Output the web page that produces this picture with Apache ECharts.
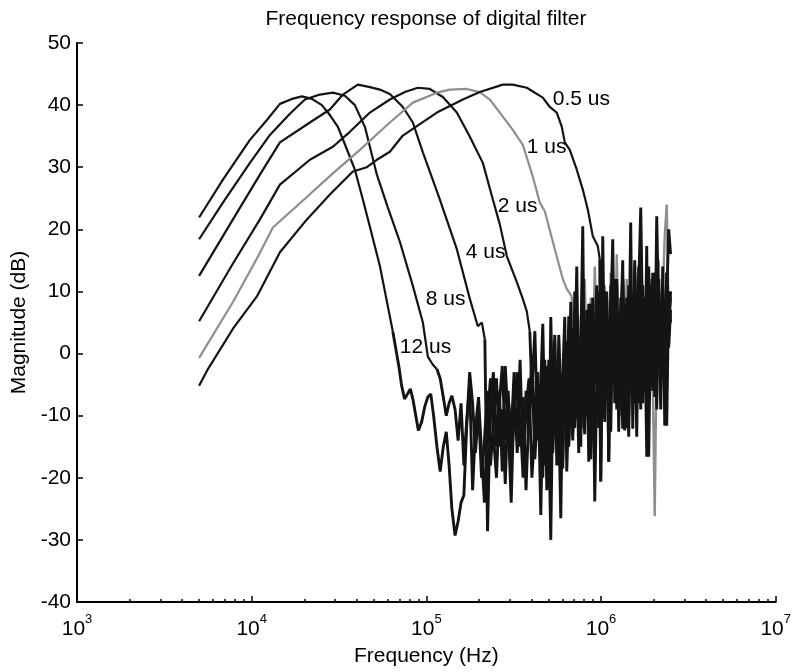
<!DOCTYPE html>
<html><head><meta charset="utf-8">
<script src="https://cdn.jsdelivr.net/npm/echarts@6/dist/echarts.min.js"></script>
<style>html,body{margin:0;padding:0;background:#fff}#c{width:794px;height:672px}</style>
</head><body><div id="c"></div>
<script>
// ---------- DATA ----------
const titleText = 'Frequency response of digital filter';
const xName = 'Frequency (Hz)';
const yName = 'Magnitude (dB)';
const xTickValues = [1000, 10000, 100000, 1000000, 10000000];
const xTickExps = ['3', '4', '5', '6', '7'];
const xMinorTicks = [2000,3000,4000,5000,6000,7000,8000,9000,
  20000,30000,40000,50000,60000,70000,80000,90000,
  200000,300000,400000,500000,600000,700000,800000,900000,
  2000000,3000000,4000000,5000000,6000000,7000000,8000000,9000000];
const yTicks = [-40, -30, -20, -10, 0, 10, 20, 30, 40, 50];

const seriesNames = ['12 us', '8 us', '4 us', '2 us', '1 us', '0.5 us'];

// main lobes (frequency Hz, magnitude dB)
const f12 = [5000, 6846, 9773, 12228, 14510, 16995, 19393, 22121, 25235, 28039, 31157, 34625, 38980, 43312, 47497, 54196, 59428, 64314];
const m12 = [21.9, 28.0, 34.4, 37.6, 40.2, 41.0, 41.4, 41.0, 40.0, 38.4, 36.5, 33.3, 29.6, 24.8, 20.4, 14.1, 8.4, 3.5];

const f8 = [5000, 6846, 9773, 12719, 16553, 20173, 24582, 29168, 34174, 38980, 44473, 52090, 60215, 70530, 83702, 95500, 102000, 108940, 114870];
const m8 = [18.4, 24.3, 30.7, 35.2, 38.6, 40.9, 41.7, 42.0, 41.5, 40.0, 36.5, 28.8, 23.5, 18.0, 10.9, 5.0, -0.5, -1.8, -2.5];

const f4 = [5000, 7813, 11148, 14510, 21544, 28039, 33286, 40550, 47497, 54196, 61817, 73372, 83702, 95500, 104710, 119510, 149450, 177420, 197090, 207800, 216200];
const m4 = [12.5, 21.6, 28.8, 34.0, 37.2, 39.3, 41.7, 43.3, 42.9, 42.5, 41.8, 39.7, 37.2, 32.4, 29.3, 24.8, 16.8, 8.8, 4.4, 5.0, 2.3];

const f2 = [5000, 7813, 11148, 14510, 21544, 29168, 36498, 47497, 61817, 75339, 89417, 104710, 124340, 149450, 177420, 210550, 240250, 263380, 288800, 329600, 356600, 375900, 391200];
const m2 = [5.2, 14.5, 21.6, 27.2, 31.2, 33.3, 35.7, 38.8, 40.9, 42.1, 42.8, 42.6, 41.3, 38.8, 34.9, 30.7, 24.8, 20.8, 15.7, 11.5, 8.8, 6.8, 3.5];

const f1 = [5000, 7813, 10715, 13228, 18887, 29168, 41636, 61817, 83702, 114870, 136280, 170560, 202370, 230950, 263380, 312600, 356600, 406800, 446100, 476600, 543600, 604300, 636800, 680000];
const m1 = [-0.7, 8.3, 15.3, 20.3, 24.2, 29.0, 32.8, 37.2, 40.4, 42.0, 42.5, 42.6, 42.1, 40.9, 38.8, 36.0, 33.6, 28.5, 24.3, 22.9, 16.8, 12.0, 10.4, 9.2];

const f05 = [5000, 5617, 7813, 10715, 14510, 20714, 28039, 37970, 45657, 52090, 61817, 73372, 114870, 161800, 202370, 274000, 312600, 375900, 464200, 509000, 558100, 596400, 620400, 662400, 726500, 786300, 839900, 897200, 958100, 983600];
const m05 = [-5.2, -2.5, 4.0, 9.2, 16.3, 21.6, 25.6, 29.3, 30.0, 31.2, 32.5, 35.1, 38.8, 40.9, 42.1, 43.3, 43.3, 42.8, 41.2, 39.7, 38.8, 36.5, 34.0, 32.8, 29.6, 26.4, 23.2, 18.9, 17.3, 15.2];

// noise-floor region: shared frequency grid (Hz), coarse then fine
const noiseFreq = [70000,72000,75000,78000,81000,84000,87000,90000,94000,98000,
 102000,106000,110000,115000,120000,125000,130000,135000,140000,146000,
 152000,158000,164000,170000,177000,184000,191000,199000,207000,215000,
 224000,233000,242000,252000,262000,272000,283000,294000,306000,318000,
 331000,344000,358000,372000,387000,402000,418000,435000,
 452000,464100,476500,489200,502200,515600,529400,543500,558000,572900,
 588200,603900,620000,636600,653600,671000,688900,707300,726200,745600,
 765500,786000,807000,828500,850600,873300,896600,920600,945200,970400,
 996300,1023000,1050000,1078000,1107000,1137000,1167000,1198000,1230000,1263000,
 1297000,1331000,1367000,1403000,1441000,1479000,1519000,1559000,1601000,1644000,
 1688000,1733000,1779000,1827000,1875000,1925000,1977000,2030000,2084000,2140000,
 2197000,2255000,2316000,2377000,2441000,2500000];

// first noise frequency of each curve
const tailStart = [70000, 120000, 224000, 402000, 688900, 996300];

const tail12 = [-2.5,-5,-7.3,-6.5,-5.7,-7.5,-10,-12.4,-11,-8.5,
 -7,-6.5,-10,-15,-19,-15,-12.6,-18,-25,-29.3,
 -27,-24,-22.8,-12,-3,-8,-16,-9,-20,-14,
 -6,-18,-11,-4,-15,-9,-21,-7,-13,-3,
 -16,-10,-20,-6,-12,-2,-17,-8,
 -14,-3,-18,-6,-11,0,-16,-8,-2,-13,
 -5,-17,1,-9,-14,3,-7,-12,5,-4,
 -15,6,-2,-10,8,-6,-13,4,-1,-9,
 9,-4,-11,6,0,-8,11,-3,7,-10,
 2,12,-5,5,-7,10,-2,13,-6,4,
 -9,11,1,-4,14,-1,8,-7,12,3,
 -5,10,-2,13,6,9];
const tail8 = [-4,-7,-10,-8,-6.8,-9,-14,-8,-18,-11,
 -5,-22,-12,-7,-16,-24,-10,-4,-13,-20,
 -8,-2,-14,-6,-18,-10,-3,-15,-7,-22,
 -9,-1,-12,-5,
 -7,-20,-4,-12,-1,-17,-9,2,-14,-5,
 -19,-3,-10,2,-15,-6,4,-11,-2,-16,
 3,-8,-13,7,-3,-11,9,-5,1,-12,
 5,-6,10,-2,-9,8,-4,12,-1,-7,
 9,-3,4,-12,11,0,-6,7,-3,14,
 2,-8,9,-1,6,-5,13,0,-4,10,
 -2,8,-7,11,1,7];
const tail4 = [-28.6,-8,-3,-15,-6,-19,-2,-11,-24,-7,
 -14,-1,-18,-9,-4,-20,-12,-3,
 -26,-9,-1,-22,-12,-30,-6,3,-18,-10,
 -26.5,-4,5.9,-19,-8,8.3,-13,-3,14,-9,
 0,20.5,-11,-5,7,-17,2,-23.8,-4,10,
 -20.6,4,-8,9,-3,-12.6,6,-1,11,-9,
 3,-12.1,8,-2,-13.4,10,-5,15,1,-8,
 12,-3,6,-16.6,9,2,-6,13,-1,8,
 -4,11,3,-11.6,10,5];
const tail2 = [-6,3.6,-14,
 -5,4.8,-12,-2,-21,5.9,-8,-1,-15,3,
 -6,-18.5,2,-10,6,-4,-14,10,-7,0,
 -12,12,-3,5,-17.4,8,-6,1,11,-8,
 3,9,-5,7,-17.4,11,-2,6,-9,4,
 -1,12,-6,6,-10,9,0,-8,10,-3,
 5,-7,9,-12,2,11,-4,8,-9,12,
 0,7,-6,13,3,10];
const tail1 = [2,-8,10,-3,6,-12,12,0,-6,9,
 -2,14,3,-9,8,-4,11,1,-7,13,
 5,-3,16,2,-10,9,-1,12,-5,7,
 0,14,-8,4,11,-3,8,-5,6,12,
 -4,-26.2,2,15,-6,9,19,24,5,10];
const tail05 = [-20.6,18.9,-5,10,-17.4,6,18.4,-8,12,-12.6,
 4,15,-12.4,9,-2,21.1,-12.1,8,-13.4,11,
 23.5,3,-6,17.3,-16.6,7,12,-3,22.1,5,
 -9,14,-11.6,9,20,16];

// curve labels (anchor frequency, dB)
const labelText = ['0.5 us', '1 us', '2 us', '4 us', '8 us', '12 us'];
const labelFreq = [529700, 375900, 256600, 168300, 99330, 70530];
const labelDb = [41.0, 33.2, 23.7, 16.3, 8.8, 1.1];

// ---------- BUILD ----------
const mains = [[f12, m12], [f8, m8], [f4, m4], [f2, m2], [f1, m1], [f05, m05]];
const tails = [tail12, tail8, tail4, tail2, tail1, tail05];
const colors = ['#141414', '#141414', '#141414', '#141414', '#8e8e8e', '#141414'];

function mainPts(i) {
  const f = mains[i][0], m = mains[i][1];
  return f.map((v, j) => [v, m[j]]);
}
function tailPts(i) {
  const f = mains[i][0], m = mains[i][1];
  const pts = [[f[f.length - 1], m[m.length - 1]]];
  const k = noiseFreq.indexOf(tailStart[i]);
  tails[i].forEach((v, j) => { if (k >= 0 && k + j < noiseFreq.length) pts.push([noiseFreq[k + j], v]); });
  return pts;
}

const FONT = 'Liberation Sans, Arial, Helvetica, sans-serif';
const series = [];
seriesNames.forEach((n, i) => {
  const grey = colors[i] !== '#141414';
  series.push({ name: n, type: 'line', data: mainPts(i), showSymbol: false, symbol: 'none',
    lineStyle: { color: colors[i], width: 2.2 }, silent: true, z: 3 });
  series.push({ name: n + ' noise', type: 'line', data: tailPts(i), showSymbol: false, symbol: 'none',
    lineStyle: { color: colors[i], width: grey ? 2.4 : 2.9 }, silent: true, z: grey ? 1 : 2 });
});
series.push({
  type: 'scatter', symbolSize: 0, silent: true, z: 5,
  itemStyle: { color: '#000' },
  label: { show: true, position: 'right', distance: 0, formatter: p => p.name,
    fontSize: 21, fontFamily: FONT, color: '#000', opacity: 1 },
  data: labelText.map((t, i) => ({ name: t, value: [labelFreq[i], labelDb[i]] }))
});

const chart = echarts.init(document.getElementById('c'), null, { renderer: 'canvas', width: 794, height: 672 });
chart.setOption({
  animation: false,
  backgroundColor: '#fff',
  textStyle: { fontFamily: FONT },
  grid: { left: 77, right: 18, top: 43, bottom: 68, containLabel: false },
  graphic: [{ type: 'text', x: 426, y: 9, silent: true,
    style: { text: titleText, fontSize: 21, fontFamily: FONT, fill: '#000', align: 'center', verticalAlign: 'top' } }],
  xAxis: [{
    type: 'log', logBase: 10, min: 1000, max: 10000000, position: 'bottom',
    axisLine: { show: true, onZero: false, lineStyle: { color: '#000', width: 2 } },
    axisTick: { show: true, inside: true, length: 6, customValues: xTickValues, lineStyle: { color: '#000', width: 1.5 } },
    splitLine: { show: false },
    axisLabel: {
      customValues: xTickValues, margin: 11, color: '#000',
      formatter: v => { const i = xTickValues.findIndex(t => Math.abs(t - v) / t < 1e-6); return '{b|10}{s|' + (i >= 0 ? xTickExps[i] : '') + '}'; },
      rich: { b: { fontSize: 21, fontFamily: FONT, color: '#000', padding: [6, 0, 0, 0] },
              s: { fontSize: 13, fontFamily: FONT, color: '#000', verticalAlign: 'top' } }
    },
    name: xName, nameLocation: 'middle', nameGap: 44,
    nameTextStyle: { fontSize: 21, fontFamily: FONT, color: '#000' }
  }, {
    type: 'log', logBase: 10, min: 1000, max: 10000000, position: 'bottom',
    axisLine: { show: false, onZero: false },
    axisTick: { show: true, inside: true, length: 3, customValues: xMinorTicks, lineStyle: { color: '#000', width: 1.5 } },
    axisLabel: { show: false }, splitLine: { show: false }
  }],
  yAxis: {
    type: 'value', min: -40, max: 50, interval: 10,
    axisLine: { show: true, onZero: false, lineStyle: { color: '#000', width: 2 } },
    axisTick: { show: true, inside: true, length: 6, lineStyle: { color: '#000', width: 1.5 } },
    splitLine: { show: false },
    axisLabel: { margin: 6, fontSize: 21, fontFamily: FONT, color: '#000',
      formatter: v => String(yTicks[yTicks.indexOf(v)]) },
    name: yName, nameLocation: 'middle', nameGap: 47,
    nameTextStyle: { fontSize: 21, fontFamily: FONT, color: '#000' }
  },
  series: series
});
</script></body></html>
